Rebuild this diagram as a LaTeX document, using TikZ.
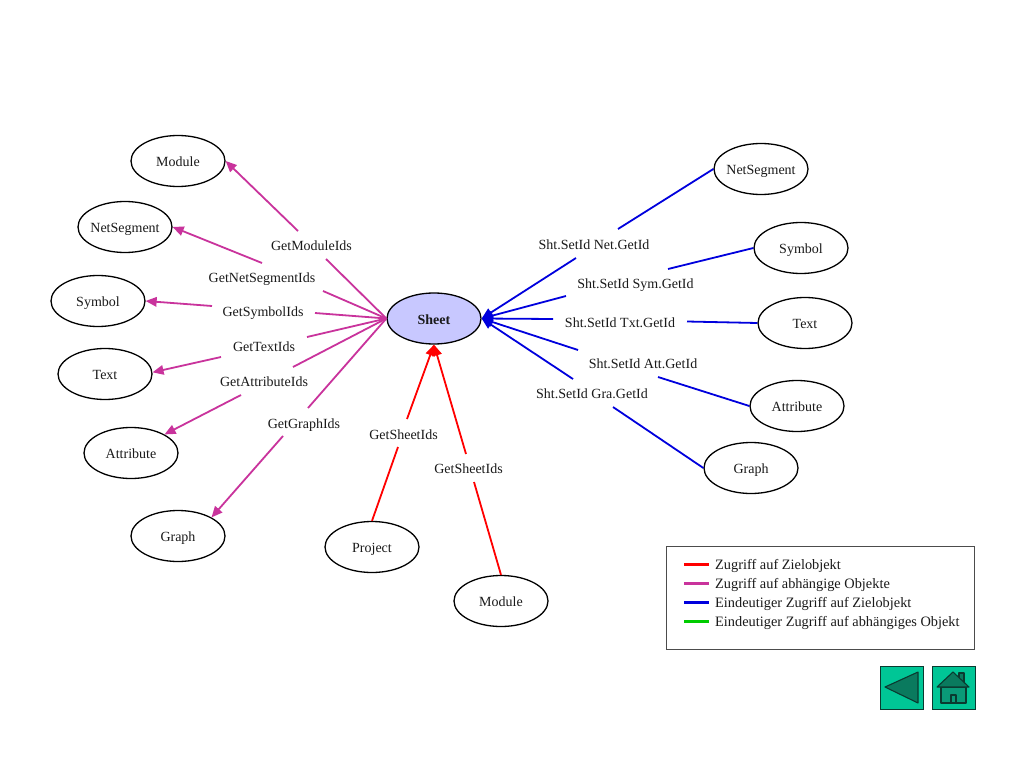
\documentclass[tikz,border=0pt]{standalone}
\usepackage{fontspec}
\setmainfont{Liberation Serif}
\usetikzlibrary{arrows.meta,shapes.geometric}
\definecolor{mag}{HTML}{C9339C}
\definecolor{blu}{HTML}{0000DD}
\definecolor{rd}{HTML}{FF0000}
\definecolor{grn}{HTML}{00CC00}
\definecolor{txtc}{HTML}{1A1A1A}
\definecolor{sheetfill}{HTML}{C8C8FF}
\definecolor{btn}{HTML}{00C696}
\definecolor{btndark}{HTML}{0A7A5E}
\definecolor{btnmid}{HTML}{0A9A78}
\definecolor{btnline}{HTML}{0A3A30}
\tikzset{
  obj/.style={draw=black,line width=1.3pt,ellipse,minimum width=94pt,minimum height=51pt,inner sep=0pt,inner xsep=-12pt,font=\fontsize{14}{16}\selectfont,text=txtc,text height=14pt,text depth=3pt},
  lbl/.style={inner sep=0pt,font=\fontsize{14}{16}\selectfont,text=txtc,text height=13pt,text depth=3pt},
  legtext/.style={lbl,anchor=west,font=\fontsize{14.35}{16}\selectfont,text height=13pt},
  conn/.style={line width=1.8pt},
  tipped/.style={conn,-{Triangle[length=11pt,width=9.5pt]}},
  legline/.style={line width=3pt},
  navbtn/.style={draw=btnline,line width=1pt,fill=btn,minimum width=43pt,minimum height=43pt,inner sep=0pt},
  navshape/.style={draw=btnline,line width=1.1pt,line join=round}
}
\begin{document}
\begin{tikzpicture}[x=1pt,y=-1pt]
\useasboundingbox[fill=white] (0,0) rectangle (1024,767);
% nodes
\node[obj,fill=sheetfill,font=\fontsize{14}{16}\selectfont\bfseries] (sheet) at (434,318.5) {Sheet};
\node[obj] (moduleL) at (178,161) {Module};
\node[obj] (netL) at (125,227) {NetSegment};
\node[obj] (symL) at (98,301) {Symbol};
\node[obj] (textL) at (105,374) {Text};
\node[obj] (attrL) at (131,453) {Attribute};
\node[obj] (graphL) at (178,536) {Graph};
\node[obj] (project) at (372,547) {Project};
\node[obj] (moduleB) at (501,601) {Module};
\node[obj] (netR) at (761,169) {NetSegment};
\node[obj] (symR) at (801,248) {Symbol};
\node[obj] (textR) at (805,323) {Text};
\node[obj] (attrR) at (797,406) {Attribute};
\node[obj] (graphR) at (751,468) {Graph};
% labels
\node[lbl] (l1) at (311.5,245.5) {GetModuleIds};
\node[lbl] (l2) at (262,277.5) {GetNetSegmentIds};
\node[lbl] (l3) at (263,311) {GetSymbolIds};
\node[lbl] (l4) at (264,346) {GetTextIds};
\node[lbl] (l5) at (264,381.5) {GetAttributeIds};
\node[lbl] (l6) at (304,423.5) {GetGraphIds};
\node[lbl] (l7) at (403.5,434) {GetSheetIds};
\node[lbl] (l8) at (468.5,468.5) {GetSheetIds};
\node[lbl] (b1) at (594,244) {Sht.SetId Net.GetId};
\node[lbl] (b2) at (635.5,283.5) {Sht.SetId Sym.GetId};
\node[lbl] (b3) at (620,322.5) {Sht.SetId Txt.GetId};
\node[lbl] (b4) at (643,363.5) {Sht.SetId Att.GetId};
\node[lbl] (b5) at (592,393.5) {Sht.SetId Gra.GetId};
% free ends beside the labels
\coordinate (l1a) at (298,231); \coordinate (l1b) at (326,259);
\coordinate (l2a) at (262,263); \coordinate (l2b) at (323,291);
\coordinate (l3a) at (212,306); \coordinate (l3b) at (315,313);
\coordinate (l4a) at (221,357); \coordinate (l4b) at (307,337);
\coordinate (l5a) at (241,395); \coordinate (l5b) at (293,367);
\coordinate (l6a) at (283,436); \coordinate (l6b) at (308,408);
\coordinate (l7a) at (398,447); \coordinate (l7b) at (407,419);
\coordinate (l8a) at (474,482); \coordinate (l8b) at (466,454);
\coordinate (b1a) at (618,229); \coordinate (b1b) at (576,258);
\coordinate (b2a) at (668,269); \coordinate (b2b) at (566,296);
\coordinate (b3a) at (687,321.5); \coordinate (b3b) at (553,319);
\coordinate (b4a) at (658,377); \coordinate (b4b) at (578,350);
\coordinate (b5a) at (613,407); \coordinate (b5b) at (573,379);
% magenta
\draw[tipped,mag] (l1a) -- (moduleL.0);
\draw[tipped,mag] (l2a) -- (netL.0);
\draw[tipped,mag] (l3a) -- (symL.0);
\draw[tipped,mag] (l4a) -- (textL.2);
\draw[tipped,mag] (l5a) -- (attrL.29);
\draw[tipped,mag] (l6a) -- (graphL.29);
\draw[conn,mag] (l1b) -- (sheet.180);
\draw[conn,mag] (l2b) -- (sheet.180);
\draw[conn,mag] (l3b) -- (sheet.180);
\draw[conn,mag] (l4b) -- (sheet.180);
\draw[conn,mag] (l5b) -- (sheet.180);
\draw[conn,mag] (l6b) -- (sheet.180);
% red
\draw[conn,rd] (project.90) -- (l7a);
\draw[tipped,rd] (l7b) -- (sheet.270);
\draw[conn,rd] (moduleB.90) -- (l8a);
\draw[tipped,rd] (l8b) -- (sheet.270);
% blue
\draw[conn,blu] (netR.180) -- (b1a);
\draw[conn,blu] (symR.180) -- (b2a);
\draw[conn,blu] (textR.180) -- (b3a);
\draw[conn,blu] (attrR.180) -- (b4a);
\draw[conn,blu] (graphR.180) -- (b5a);
\draw[tipped,blu] (b1b) -- (sheet.0);
\draw[tipped,blu] (b2b) -- (sheet.0);
\draw[tipped,blu] (b3b) -- (sheet.0);
\draw[tipped,blu] (b4b) -- (sheet.0);
\draw[tipped,blu] (b5b) -- (sheet.0);
% legend
\node[draw=black!70,line width=1pt,minimum width=308pt,minimum height=103pt,inner sep=0pt] (legend) at (820,597.5) {};
\coordinate (k1a) at (684,564.5); \coordinate (k1b) at (709,564.5);
\coordinate (k2a) at (684,583.5); \coordinate (k2b) at (709,583.5);
\coordinate (k3a) at (684,602.5); \coordinate (k3b) at (709,602.5);
\coordinate (k4a) at (684,621.5); \coordinate (k4b) at (709,621.5);
\draw[legline,rd] (k1a) -- (k1b);
\draw[legline,mag] (k2a) -- (k2b);
\draw[legline,blu] (k3a) -- (k3b);
\draw[legline,grn] (k4a) -- (k4b);
\node[legtext] (t1) at (715,564.5) {Zugriff auf Zielobjekt};
\node[legtext] (t2) at (715,583.5) {Zugriff auf abhängige Objekte};
\node[legtext] (t3) at (715,602.5) {Eindeutiger Zugriff auf Zielobjekt};
\node[legtext] (t4) at (715,621.5) {Eindeutiger Zugriff auf abhängiges Objekt};
% navigation buttons
\node[navbtn] (back) at (901.5,687.5) {};
\node[navbtn] (home) at (953.5,687.5) {};
\draw[navshape,fill=btndark] (885,687) -- (918,672) -- (918,703) -- cycle;
\draw[navshape,fill=btndark] (959,673) rectangle (964,684);
\draw[navshape,fill=btnmid] (941,687) rectangle (966,703);
\draw[navshape,fill=btndark] (937,687) -- (953,672) -- (969,687) -- cycle;
\draw[navshape,fill=btnmid] (951,695) rectangle (956,703);
\end{tikzpicture}
\end{document}
